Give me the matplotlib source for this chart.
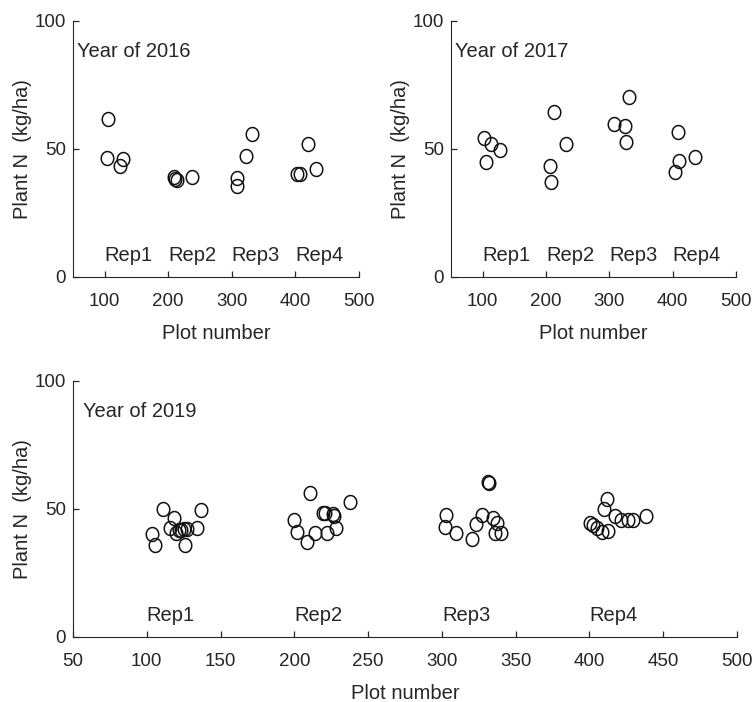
import matplotlib
matplotlib.use("Agg")
import matplotlib.pyplot as plt
import numpy as np
from matplotlib.path import Path

# Plant N per plot, one pair of lists per season
plot_2016 = [106, 103.4, 128.6, 124.3,
             208.5, 211.5, 214, 237,
             331.3, 322, 307.8, 308.7,
             419.4, 402, 407.3, 432.9]
n_2016 = [61.5, 46.2, 45.9, 43.2,
          38.9, 38.0, 37.6, 38.8,
          55.6, 47.3, 38.4, 35.5,
          51.8, 40.1, 40.1, 42.0]

plot_2017 = [102.6, 112.7, 128, 104.8,
             213.1, 231.6, 206.3, 208.4,
             330.6, 307.9, 324.8, 325.9,
             408.4, 410.5, 403.2, 434.8]
n_2017 = [54.1, 51.8, 49.4, 44.7,
          64.2, 51.8, 43.2, 37.1,
          70.1, 59.6, 58.9, 52.6,
          56.4, 45.3, 41.0, 46.9]

plot_2019 = [103.5, 105.5, 111, 116, 118.5, 120, 122, 123.5, 125, 126, 127, 133.8, 136.5,
             200, 201.6, 208.4, 210.6, 214, 219.5, 220.5, 221.9, 226, 227, 228.2, 237.7,
             302.5, 302.2, 309.6, 320.2, 323, 327, 331.5, 332.2, 334.8, 337, 336.3, 340,
             400.5, 402.6, 405, 408.3, 410, 411.7, 412.8, 417.5, 421.5, 426, 429.5, 438.5]
n_2019 = [40.2, 36.0, 49.7, 42.3, 46.5, 40.5, 41.5, 41.8, 42.0, 36.0, 42.0, 42.3, 49.5,
          45.6, 41.0, 37.0, 56.0, 40.4, 48.2, 48.5, 40.4, 47.8, 47.0, 42.6, 52.7,
          47.5, 43.0, 40.5, 38.3, 44.2, 47.5, 60.5, 60.0, 46.2, 44.6, 40.6, 40.6,
          44.6, 43.5, 42.3, 41.0, 50.0, 53.6, 41.4, 47.2, 45.5, 45.6, 45.6, 47.0]

years = ["2016", "2017", "2019"]
rep_labels = ["Rep1", "Rep2", "Rep3", "Rep4"]
rep_starts = [100, 200, 300, 400]

dark = "#262626"
plt.rcParams["font.family"] = ["Liberation Sans", "DejaVu Sans"]
plt.rcParams["text.color"] = dark
plt.rcParams["axes.edgecolor"] = dark
plt.rcParams["xtick.color"] = dark
plt.rcParams["ytick.color"] = dark
plt.rcParams["axes.labelcolor"] = dark

# slightly tall open circle
t = np.linspace(0, 2 * np.pi, 64)
oval = Path(np.column_stack([0.9 * np.cos(t), np.sin(t)]), closed=True)

fig = plt.figure(figsize=(7.55, 7.02), dpi=100)
axes = [fig.add_axes([0.0963, 0.6058, 0.3792, 0.3647]),
        fig.add_axes([0.5974, 0.6058, 0.3775, 0.3647]),
        fig.add_axes([0.0967, 0.0930, 0.8795, 0.3647])]
data = [(plot_2016, n_2016), (plot_2017, n_2017), (plot_2019, n_2019)]

for i, ax in enumerate(axes):
    x, y = data[i]
    ax.plot(x, y, linestyle="none", marker=oval, markersize=10,
            markerfacecolor="none", markeredgecolor="#111111", markeredgewidth=1.1)
    ax.set_xlim(50, 500)
    ax.set_ylim(0, 100)
    if i < 2:
        ax.set_xticks([100, 200, 300, 400, 500])
    else:
        ax.set_xticks(np.arange(50, 501, 50))
    ax.set_yticks([0, 50, 100])
    ax.spines["top"].set_visible(False)
    ax.spines["right"].set_visible(False)
    ax.tick_params(direction="in", length=4, width=0.9, labelsize=13.5)
    ax.tick_params(axis="x", pad=11.5)
    ax.tick_params(axis="y", pad=5)
    ax.set_xlabel("Plot number", fontsize=14.5, labelpad=10)
    ax.set_ylabel("Plant N  (kg/ha)", fontsize=14.5, labelpad=2)
    ax.text(57, 86, "Year of " + years[i], fontsize=14.5, va="baseline")
    for lab, xs in zip(rep_labels, rep_starts):
        ax.text(xs, 6, lab, fontsize=14.5, va="baseline")

fig.savefig("out.png", dpi=100)
